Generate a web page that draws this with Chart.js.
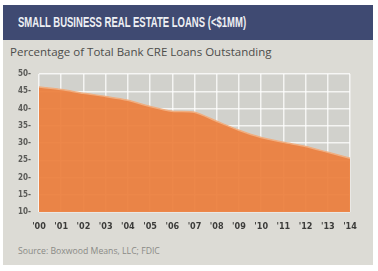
<!DOCTYPE html>
<html>
<head>
<meta charset="utf-8">
<script src="https://cdn.jsdelivr.net/npm/chart.js@4"></script>
<style>
  body { margin: 0; background: #fff; width: 378px; height: 271px; overflow: hidden; position: relative; }
  #card { position: absolute; left: 3px; top: 5px; width: 370px; height: 260px; background: #dcdbd5; }
  #bar { position: absolute; left: 3px; top: 5px; width: 370px; height: 35px; background: #3f4a72; }
  #title { position: absolute; left: 18px; top: 14px; color: #eef0f4; font: bold 14px "Liberation Sans", sans-serif; white-space: nowrap; transform: scaleX(0.68); transform-origin: left top; }
  #sub { position: absolute; left: 10px; top: 44px; color: #4d4d4b; font: 11.5px "Open Sans", sans-serif; white-space: nowrap; }
  #src { position: absolute; left: 18px; top: 245px; color: #8a8a86; font: 8.7px "Open Sans", sans-serif; white-space: nowrap; }
  #wrap { position: absolute; left: 0; top: 60px; width: 378px; height: 180px; }
</style>
</head>
<body>
<div id="card"></div>
<div id="bar"></div>
<div id="title">SMALL BUSINESS REAL ESTATE LOANS (&lt;$1MM)</div>
<div id="sub">Percentage of Total Bank CRE Loans Outstanding</div>
<div id="src">Source: Boxwood Means, LLC; FDIC</div>
<div id="wrap"><canvas id="grafico"></canvas></div>
<script>
var years = ["'00", "'01", "'02", "'03", "'04", "'05", "'06", "'07", "'08", "'09", "'10", "'11", "'12", "'13", "'14"];
var loanShare = [46.2, 45.5, 44.4, 43.5, 42.4, 40.6, 39.2, 38.9, 36.3, 33.7, 31.6, 30.2, 29.0, 27.3, 25.6];
var yTicks = [10, 15, 20, 25, 30, 35, 40, 45, 50];

// gray plot background behind the grid
var plotBg = {
    id: "plotBg",
    beforeDraw: function (chart) {
        var a = chart.chartArea, ctx = chart.ctx;
        ctx.save();
        ctx.fillStyle = "#d1d1cc";
        ctx.fillRect(a.left, a.top, a.right - a.left, a.bottom - a.top);
        ctx.restore();
    }
};

var canvasElement = document.getElementById("grafico");

var config = {
    type: "line",
    data: {
        labels: years,
        datasets: [
            {
                data: loanShare,
                fill: "start",
                backgroundColor: "rgba(236, 126, 60, 0.93)",
                borderColor: "#f0ae80",
                borderWidth: 1.5,
                pointRadius: 0,
                tension: 0.25
            }
        ]
    },
    plugins: [plotBg],
    options: {
        responsive: true,
        maintainAspectRatio: false,
        animation: false,
        layout: { padding: { top: 14, right: 28, left: 0, bottom: 0 } },
        plugins: { legend: { display: false }, tooltip: { enabled: false } },
        scales: {
            x: {
                offset: false,
                grid: { color: "rgba(255,255,255,0.75)", lineWidth: 1.5, drawTicks: false },
                border: { display: false },
                ticks: {
                    color: "#3c3c3a",
                    font: { family: "'DejaVu Sans Condensed', sans-serif", size: 9, weight: "bold" },
                    padding: 9,
                    maxRotation: 0,
                    autoSkip: false
                },
                afterFit: function (s) { s.height = 28; }
            },
            y: {
                min: 10,
                max: 50,
                afterBuildTicks: function (s) { s.ticks = yTicks.map(function (v) { return { value: v }; }); },
                grid: { color: "rgba(255,255,255,0.75)", lineWidth: 1.5, drawTicks: false },
                border: { display: false },
                ticks: {
                    color: "#5a5a57",
                    font: { family: "'DejaVu Sans Condensed', sans-serif", size: 8, weight: "bold" },
                    padding: 8,
                    callback: function (v) { return v + "-"; }
                },
                afterFit: function (s) { s.width = 39; }
            }
        }
    }
};

var graficoEmprestimos = new Chart(canvasElement, config);
</script>
</body>
</html>
